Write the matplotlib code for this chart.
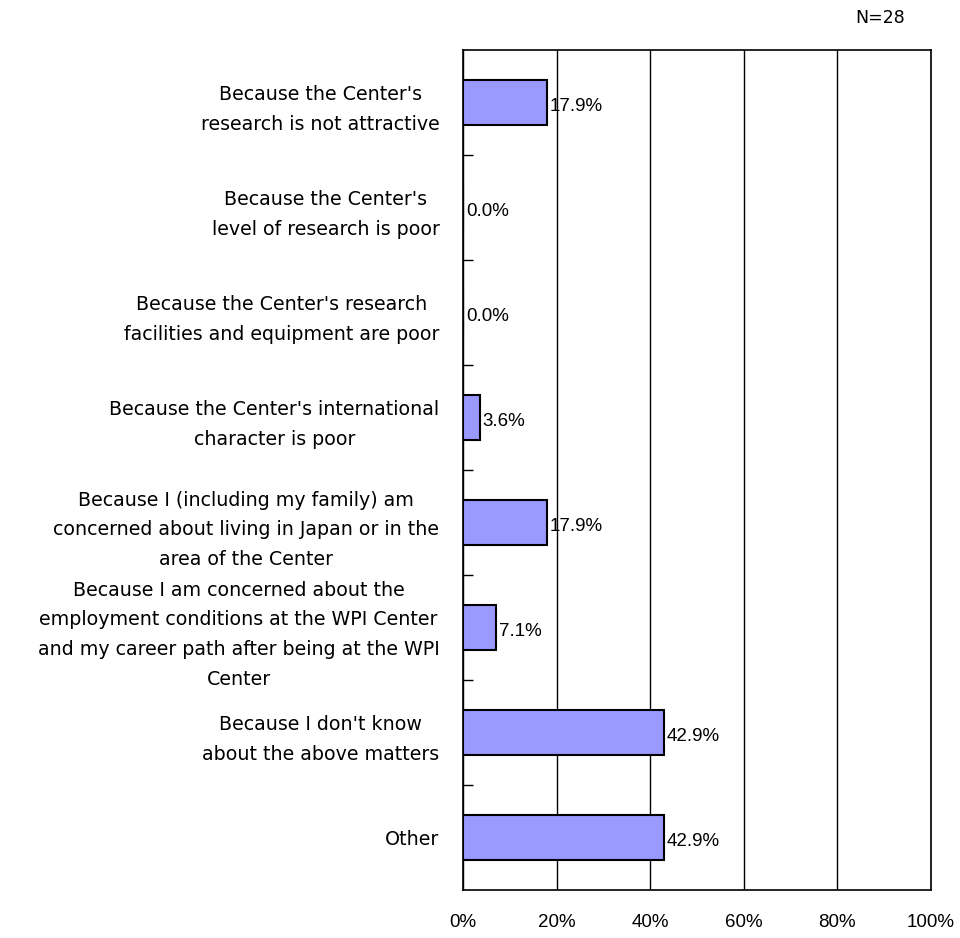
import numpy as np
import matplotlib
matplotlib.use('Agg')
import matplotlib.pyplot as plt

categories = [
    "Because the Center's\nresearch is not attractive",
    "Because the Center's\nlevel of research is poor",
    "Because the Center's research\nfacilities and equipment are poor",
    "Because the Center's international\ncharacter is poor",
    "Because I (including my family) am\nconcerned about living in Japan or in the\narea of the Center",
    "Because I am concerned about the\nemployment conditions at the WPI Center\nand my career path after being at the WPI\nCenter",
    "Because I don't know\nabout the above matters",
    "Other",
]
values = [17.9, 0.0, 0.0, 3.6, 17.9, 7.1, 42.9, 42.9]
xticks = [0, 20, 40, 60, 80, 100]
xtick_labels = ['0%', '20%', '40%', '60%', '80%', '100%']

plt.rcParams['font.family'] = ['DejaVu Sans']
narrow = ['Liberation Sans Narrow', 'Liberation Sans', 'DejaVu Sans']

fig = plt.figure(figsize=(9.6, 9.38), dpi=100)
ax = fig.add_axes([0.4823, 0.0512, 0.4875, 0.8955])

y = np.arange(len(categories))
ax.barh(y, values, height=0.42, color='#9999FF', edgecolor='black', linewidth=1.5, zorder=3)

# percentage labels right of each bar
for yi, v in zip(y, values):
    ax.text(v + 0.6, yi + 0.04, '%.1f%%' % v, va='center', ha='left',
            fontsize=13.5, family=narrow)

ax.set_xlim(0, 100)
ax.set_ylim(len(categories) - 0.5, -0.5)
ax.set_xticks(xticks)
ax.set_xticklabels(xtick_labels, fontsize=13.5, family=narrow)
ax.tick_params(axis='x', length=0, pad=17)
ax.xaxis.grid(True, color='black', linewidth=1, zorder=0)

ax.set_yticks(y)
ax.set_yticklabels(categories, fontsize=13.7, multialignment='center', linespacing=1.72)
ax.tick_params(axis='y', which='major', length=0, pad=17)
ax.set_yticks(np.arange(0.5, len(categories) - 1, 1.0), minor=True)
ax.tick_params(axis='y', which='minor', direction='in', length=7, width=1)

for s in ax.spines.values():
    s.set_linewidth(1.2)

fig.text(0.917, 0.981, 'N=28', ha='center', va='center', fontsize=12.5)

plt.savefig('out.png', dpi=100)
